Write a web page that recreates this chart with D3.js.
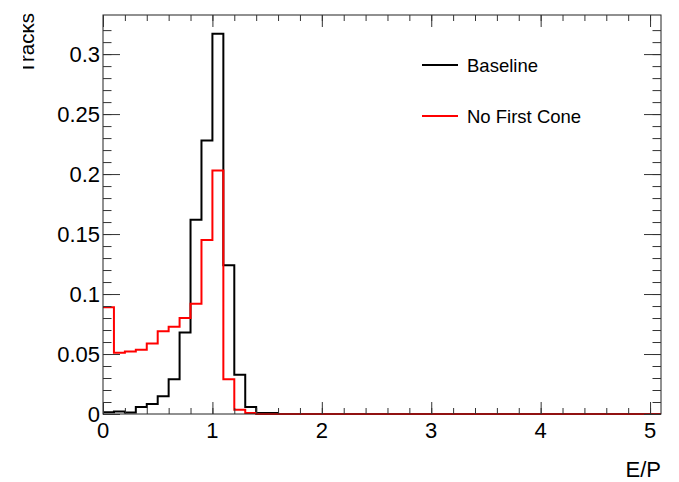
<!DOCTYPE html>
<html>
<head>
<meta charset="utf-8">
<script src="https://cdn.jsdelivr.net/npm/d3@7"></script>
<style>
  body { margin: 0; background: #fff; }
  svg { display: block; }
  text { font-family: "Liberation Sans", Arial, Helvetica, sans-serif; fill: #000; }
</style>
</head>
<body>
<div id="chart"></div>
<script>
// histogram: E/P, bin width 0.1 starting at 0
var binWidth = 0.1;
var baseline = [0.0015, 0.002, 0.0012, 0.0058, 0.0083, 0.0147, 0.029, 0.068, 0.162, 0.228,
                0.317, 0.124, 0.0327, 0.0058, 0.0008, 0.0008];
var noFirstCone = [0.089, 0.051, 0.052, 0.0535, 0.0587, 0.069, 0.0727, 0.080, 0.092, 0.145,
                   0.203, 0.029, 0.0036, 0.0008, 0, 0];
var xTicks = [0, 1, 2, 3, 4, 5];
var yTicks = [0, 0.05, 0.1, 0.15, 0.2, 0.25, 0.3];
var yTickLabels = ["0", "0.05", "0.1", "0.15", "0.2", "0.25", "0.3"];
var seriesNames = ["Baseline", "No First Cone"];
var seriesColors = ["#000000", "#ff0000"];

var width = 679, height = 482;
var x0 = 103, x1 = 661, y0 = 414, y1 = 15;

var x = d3.scaleLinear().domain([0, 5.1]).range([x0, x1]);
var y = d3.scaleLinear().domain([0, 0.3326]).range([y0, y1]);

var svg = d3.select('#chart').append('svg')
    .attr('width', width)
    .attr('height', height);

// step path for a histogram, flat at zero up to the axis end
function histPath(vals) {
    var p = d3.path();
    p.moveTo(x(0), y(vals[0]));
    vals.forEach(function(v, i) {
        if (i > 0) p.lineTo(x(i * binWidth), y(v));
        p.lineTo(x((i + 1) * binWidth), y(v));
    });
    p.lineTo(x(vals.length * binWidth), y(0));
    p.lineTo(x(5.1), y(0));
    return p.toString();
}

[baseline, noFirstCone].forEach(function(vals, i) {
    svg.append('path')
        .attr('d', histPath(vals))
        .attr('fill', 'none')
        .attr('stroke', seriesColors[i])
        .attr('stroke-width', 2)
        .attr('stroke-linejoin', 'miter');
});

// frame
svg.append('rect')
    .attr('x', x0).attr('y', y1)
    .attr('width', x1 - x0).attr('height', y0 - y1)
    .attr('fill', 'none')
    .attr('stroke', '#222')
    .attr('stroke-width', 1);

// ticks on all four sides, drawn with d3 axes
var xMinor = d3.range(0, 5.1001, 0.2);
var yMinor = d3.range(0, 0.33, 0.01);

function tickStyle(g) {
    g.select('.domain').remove();
    g.selectAll('.tick line').attr('stroke', '#333');
}

svg.append('g').attr('transform', 'translate(0,' + y0 + ')')
    .call(d3.axisTop(x).tickValues(xMinor).tickSize(6).tickFormat(''))
    .call(tickStyle);
svg.append('g').attr('transform', 'translate(0,' + y0 + ')')
    .call(d3.axisTop(x).tickValues(xTicks).tickSize(12).tickFormat(''))
    .call(tickStyle);
svg.append('g').attr('transform', 'translate(0,' + y1 + ')')
    .call(d3.axisBottom(x).tickValues(xMinor).tickSize(6).tickFormat(''))
    .call(tickStyle);
svg.append('g').attr('transform', 'translate(0,' + y1 + ')')
    .call(d3.axisBottom(x).tickValues(xTicks).tickSize(12).tickFormat(''))
    .call(tickStyle);

svg.append('g').attr('transform', 'translate(' + x0 + ',0)')
    .call(d3.axisRight(y).tickValues(yMinor).tickSize(8.5).tickFormat(''))
    .call(tickStyle);
svg.append('g').attr('transform', 'translate(' + x0 + ',0)')
    .call(d3.axisRight(y).tickValues(yTicks).tickSize(17).tickFormat(''))
    .call(tickStyle);
svg.append('g').attr('transform', 'translate(' + x1 + ',0)')
    .call(d3.axisLeft(y).tickValues(yMinor).tickSize(8.5).tickFormat(''))
    .call(tickStyle);
svg.append('g').attr('transform', 'translate(' + x1 + ',0)')
    .call(d3.axisLeft(y).tickValues(yTicks).tickSize(17).tickFormat(''))
    .call(tickStyle);

// tick labels
svg.selectAll('.xlab').data(xTicks).enter().append('text')
    .attr('class', 'xlab')
    .attr('x', function(d) { return x(d); })
    .attr('y', 438)
    .attr('text-anchor', 'middle')
    .style('font-size', '22px')
    .text(function(d) { return d; });

svg.selectAll('.ylab').data(yTicks).enter().append('text')
    .attr('class', 'ylab')
    .attr('x', 100)
    .attr('y', function(d) { return y(d) + 8; })
    .attr('text-anchor', 'end')
    .style('font-size', '22px')
    .text(function(d, i) { return yTickLabels[i]; });

// axis titles
svg.append('text')
    .attr('x', x1).attr('y', 477)
    .attr('text-anchor', 'end')
    .style('font-size', '22px')
    .text('E/P');

// y title sits at the pad's left edge and is cut there
svg.append('clipPath').attr('id', 'ytclip')
    .append('rect').attr('x', 23).attr('y', 0).attr('width', 60).attr('height', 120);
svg.append('g')
    .attr('clip-path', 'url(#ytclip)')
    .append('text')
    .attr('transform', 'translate(33.5,' + (y1 - 2) + ') rotate(-90)')
    .attr('text-anchor', 'end')
    .style('font-size', '20.5px')
    .text('Tracks');

// legend
var leg = svg.selectAll('.leg').data(seriesNames).enter().append('g')
    .attr('class', 'leg')
    .attr('transform', function(d, i) { return 'translate(422,' + (65 + i * 51) + ')'; });
leg.append('line')
    .attr('x1', 0).attr('x2', 36)
    .attr('stroke', function(d, i) { return seriesColors[i]; })
    .attr('stroke-width', 2);
leg.append('text')
    .attr('x', 45).attr('y', 7)
    .style('font-size', '18.5px')
    .text(function(d) { return d; });
</script>
</body>
</html>
